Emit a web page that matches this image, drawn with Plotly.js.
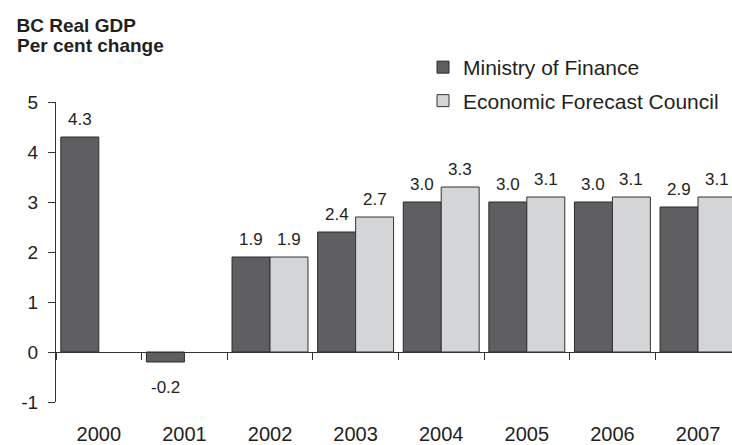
<!DOCTYPE html>
<html>
<head>
<meta charset="utf-8">
<script src="https://cdn.plot.ly/plotly-3.0.1.min.js"></script>
<style>html,body{margin:0;padding:0;background:#fff}#chart{width:732px;height:445px}</style>
</head>
<body>
<div id="chart"></div>
<script>
var years = ["2000", "2001", "2002", "2003", "2004", "2005", "2006", "2007"];
var ministryOfFinance = [4.3, -0.2, 1.9, 2.4, 3.0, 3.0, 3.0, 2.9];
var economicForecastCouncil = [null, null, 1.9, 2.7, 3.3, 3.1, 3.1, 3.1];
var seriesNames = ["Ministry of Finance", "Economic Forecast Council"];
var yTicks = [-1, 0, 1, 2, 3, 4, 5];
var titleLines = ["BC Real GDP", "Per cent change"];

var FONT = "Liberation Sans, Arial, Helvetica, sans-serif";
var TXT = "#231f20";
var BARGAP = 0.113;
var halfW = (1 - BARGAP) / 4;

var traces = [
  {
    type: "bar", name: seriesNames[0], x: years, y: ministryOfFinance,
    marker: {color: "#5f5f61", line: {color: "#2a2a2a", width: 1}},
    legend: "legend", hoverinfo: "x+y"
  },
  {
    type: "bar", name: seriesNames[1], x: years, y: economicForecastCouncil,
    marker: {color: "#d4d5d7", line: {color: "#333333", width: 1}},
    legend: "legend2", hoverinfo: "x+y"
  },
  {
    type: "scatter", mode: "markers", x: years, y: years.map(function(){return null;}),
    xaxis: "x2", showlegend: false, hoverinfo: "skip", marker: {opacity: 0}
  }
];

var annotations = [];
function addLabels(vals, sign) {
  vals.forEach(function(v, i) {
    if (v === null) return;
    var pos = v >= 0;
    annotations.push({
      x: i + sign * halfW, y: v, xref: "x", yref: "y",
      text: v.toFixed(1), showarrow: false,
      yanchor: pos ? "bottom" : "top",
      yshift: pos ? 6 : -14,
      font: {family: FONT, size: 17, color: TXT}
    });
  });
}
addLabels(ministryOfFinance, -1);
addLabels(economicForecastCouncil, 1);

// second title line
annotations.push({
  xref: "paper", yref: "paper",
  x: (14.5 - 56) / 676, xanchor: "left",
  y: (402 - 45) / 300, yanchor: "middle",
  text: "<b>" + titleLines[1] + "</b>", showarrow: false,
  font: {family: FONT, size: 19, color: TXT}
});

var xr = [-0.5, 7.397];
var layout = {
  width: 732, height: 445,
  margin: {l: 56, r: 0, t: 102, b: 43},
  paper_bgcolor: "#ffffff", plot_bgcolor: "#ffffff",
  font: {family: FONT, color: TXT},
  barmode: "group", bargap: BARGAP, bargroupgap: 0,
  title: {
    text: "<b>" + titleLines[0] + "</b>",
    xref: "container", yref: "container",
    x: 16.5 / 732, xanchor: "left", y: 1 - 25 / 445, yanchor: "middle",
    font: {family: FONT, size: 19, color: TXT}
  },
  xaxis: {
    type: "category", categoryorder: "array", categoryarray: years,
    range: xr, showline: false, ticks: "", showgrid: false, zeroline: false,
    tickfont: {family: FONT, size: 20, color: TXT},
    ticklabelstandoff: 18, fixedrange: true
  },
  xaxis2: {
    type: "category", categoryorder: "array", categoryarray: years,
    overlaying: "x", anchor: "free", position: 1 / 6, side: "bottom",
    range: xr, showline: true, linecolor: "#333333", linewidth: 1,
    ticks: "outside", ticklen: 7, tickcolor: "#333333", tickwidth: 1,
    tickson: "boundaries", showticklabels: false, showgrid: false, zeroline: false,
    fixedrange: true
  },
  yaxis: {
    range: [-1, 5], tickvals: yTicks, ticktext: yTicks.map(String),
    showline: true, linecolor: "#333333", linewidth: 1,
    ticks: "outside", ticklen: 7, tickcolor: "#333333", tickwidth: 1,
    showgrid: false, zeroline: false,
    tickfont: {family: FONT, size: 19, color: TXT},
    ticklabelstandoff: 6, fixedrange: true
  },
  legend: {
    x: (423 - 56) / 676, xanchor: "left", y: (402 - 67.5) / 300, yanchor: "middle",
    bgcolor: "rgba(0,0,0,0)", font: {family: FONT, size: 21, color: TXT}
  },
  legend2: {
    x: (423 - 56) / 676, xanchor: "left", y: (402 - 101) / 300, yanchor: "middle",
    bgcolor: "rgba(0,0,0,0)", font: {family: FONT, size: 21, color: TXT}
  },
  showlegend: true,
  annotations: annotations
};

Plotly.newPlot("chart", traces, layout, {displayModeBar: false, staticPlot: true});
</script>
</body>
</html>
